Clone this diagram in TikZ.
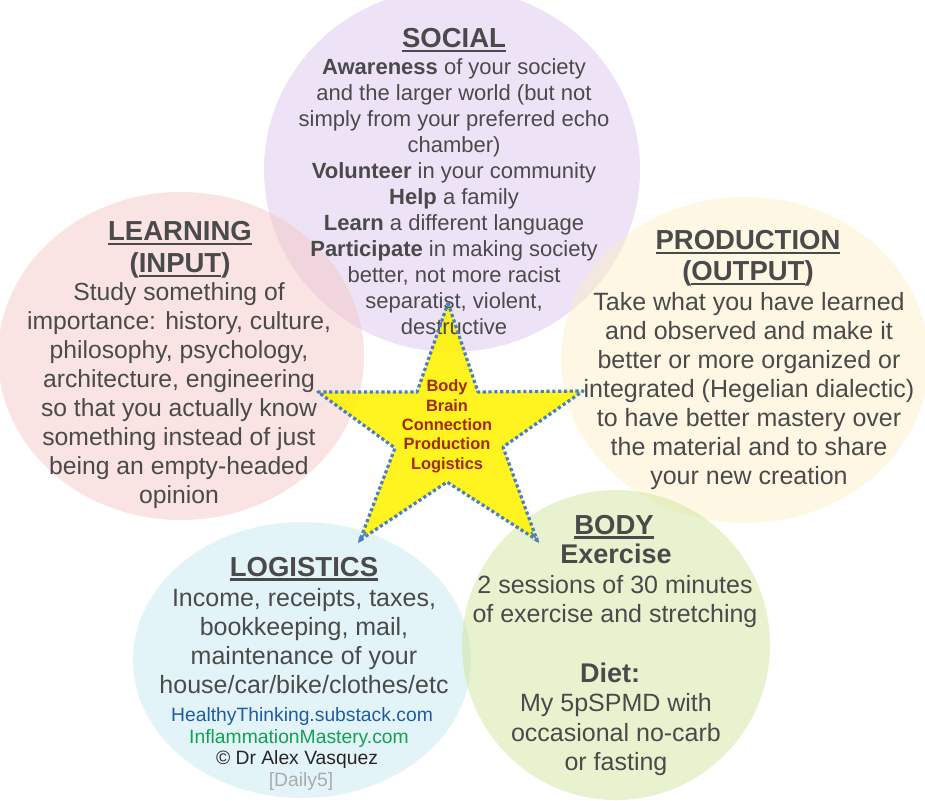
\documentclass[tikz,border=0pt]{standalone}
\usepackage{fontspec}
\setmainfont{Liberation Sans}
\usetikzlibrary{arrows.meta}
\newcommand\ulx[1]{\leavevmode\setbox0=\hbox{#1}\rlap{\rule[-0.17em]{\wd0}{0.08em}}\box0}
\definecolor{txt}{HTML}{4A4A4A}
\definecolor{cSoc}{RGB}{221,199,237}
\definecolor{cLrn}{RGB}{243,199,199}
\definecolor{cPrd}{RGB}{251,239,199}
\definecolor{cLog}{RGB}{199,233,241}
\definecolor{cBod}{RGB}{209,229,157}
\definecolor{starblue}{HTML}{4A7EC6}
\definecolor{startxt}{HTML}{A3290C}
\definecolor{urlblue}{HTML}{1F5BA6}
\definecolor{urlgreen}{HTML}{12A150}
\definecolor{dailygray}{HTML}{ABABAB}
\begin{document}
\begin{tikzpicture}[x=1pt,y=-1pt,
  blob/.style={fill opacity=0.5},
  txtnode/.style={text=txt, align=center, inner sep=0pt},
  ttl/.style={txtnode, font=\bfseries\fontsize{27.5}{32}\selectfont},
  bodytxt/.style={txtnode, anchor=north, font=\fontsize{25}{29}\selectfont},
  credit/.style={align=center, inner sep=0pt, anchor=base, font=\fontsize{19.3}{21.5}\selectfont},
  starline/.style={draw=starblue, line width=3.2pt, dash pattern=on 3.2pt off 2.6pt},
]
\useasboundingbox (0,0) rectangle (925,800);
\begin{scope}
\clip (0,0) rectangle (925,800);
\fill[cSoc, blob] (452,170) ellipse [x radius=188, y radius=182];
\fill[cLrn, blob] (181,356) ellipse [x radius=183, y radius=164];
\fill[cPrd, blob] (745,360) ellipse [x radius=184, y radius=163];
\fill[cLog, blob] (302,660) ellipse [x radius=169, y radius=138];
\fill[cBod, blob] (616,645) ellipse [x radius=154, y radius=155];
\end{scope}

% STAR fill (below the texts)
\fill[yellow, fill opacity=0.88] (448,303) -- (478,392) -- (583,391) -- (503,447) -- (537,540)
  -- (447,482) -- (360,540) -- (395,448) -- (318,392) -- (417,392) -- cycle;

% SOCIAL
\node[ttl, anchor=base] (socT) at (454,47.5) {\ulx{SOCIAL}};
\node[txtnode, anchor=north, font=\fontsize{22}{26}\selectfont] (socB) at (454,55.8)
 {\strut\textbf{Awareness} of your society\\ and the larger world (but not\\ simply from your preferred echo\\ chamber)\\ \textbf{Volunteer} in your community\\ \textbf{Help} a family\\ \textbf{Learn} a different language\\ \textbf{Participate} in making society\\ better, not more racist\\ separatist, violent,\\ destructive\strut};

% LEARNING
\node[ttl, anchor=north] (lrnT) at (180,217.6) {\strut\ulx{LEARNING}\\ (\ulx{INPUT})\strut};
\node[txtnode, anchor=north, font=\fontsize{24.7}{29}\selectfont] (lrnB) at (179,279.7)
 {\strut Study something of\\ importance: history, culture,\\ philosophy, psychology,\\ architecture, engineering\\ so that you actually know\\ something instead of just\\ being an empty-headed\\ opinion\strut};

% PRODUCTION
\node[txtnode, anchor=north, font=\bfseries\fontsize{27.5}{31}\selectfont] (prdT) at (748,227.3) {\strut\ulx{PRODUCTION}\\ (\ulx{OUTPUT})\strut};
\node[bodytxt] (prdB) at (749,289.7)
 {\strut Take what you have learned\\ and observed and make it\\ better or more organized or\\ integrated (Hegelian dialectic)\\ to have better mastery over\\ the material and to share\\ your new creation\strut};

% LOGISTICS
\node[ttl, anchor=base] (logT) at (304,576) {\ulx{LOGISTICS}};
\node[bodytxt] (logB) at (304,585.7)
 {\strut Income, receipts, taxes,\\ bookkeeping, mail,\\ maintenance of your\\ house/car/bike/clothes/etc\strut};
\node[credit, text=urlblue] (logU1) at (302,721.5) {HealthyThinking.substack.com};
\node[credit, text=urlgreen] (logU2) at (299,743) {InflammationMastery.com};
\node[credit, text=black!85] (logC) at (297,764.5) {© Dr Alex Vasquez};
\node[credit, text=dailygray] (logD) at (301,786) {[Daily5]};

% BODY
\node[ttl, anchor=base] (bodT) at (614,534) {\ulx{BODY}};
\node[txtnode, anchor=base, font=\bfseries\fontsize{27}{31}\selectfont] (bodE) at (616,563) {Exercise};
\node[txtnode, anchor=north, font=\fontsize{25}{29.5}\selectfont] (bodB1) at (615,572.3)
 {\strut 2 sessions of 30 minutes\\ of exercise and stretching\strut};
\node[txtnode, anchor=base, font=\bfseries\fontsize{27}{31}\selectfont] (bodD) at (610,682.7) {Diet:};
\node[txtnode, anchor=north, font=\fontsize{25}{29.2}\selectfont] (bodB2) at (616,691.3)
 {\strut My 5pSPMD with\\ occasional no-carb\\ or fasting\strut};

% STAR outline
\draw[starline, line join=round] (448,303) -- (478,392) -- (583,391) -- (503,447) -- (537,540)
  -- (447,482) -- (360,540) -- (395,448) -- (318,392) -- (417,392) -- cycle;
\draw[starblue, line width=1.5pt, -{Stealth[length=6pt,width=6pt]}] (366,532) -- (358,543);
\draw[starblue!70!gray, line width=1.5pt, -{Stealth[length=6pt,width=6pt]}] (531,532) -- (539,543);
\node[align=center, inner sep=0pt, anchor=north, text=startxt, font=\bfseries\fontsize{16.4}{19.3}\selectfont] (starT) at (447,378.2)
 {\strut Body\\ Brain\\ Connection\\ Production\\ Logistics\strut};
\end{tikzpicture}
\end{document}
